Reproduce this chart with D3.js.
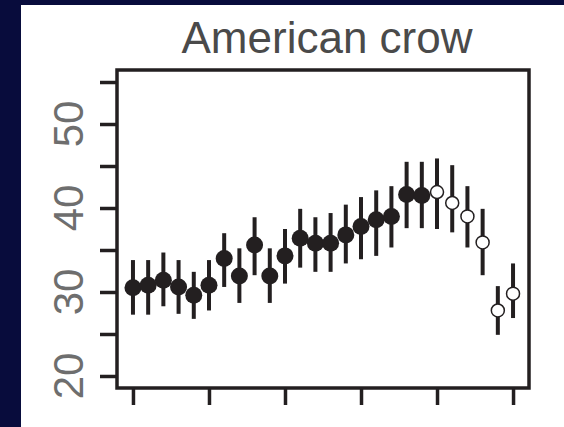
<!DOCTYPE html>
<html>
<head>
<meta charset="utf-8">
<script src="https://cdn.jsdelivr.net/npm/d3@7"></script>
<style>
  body { margin: 0; background: #080c3c; }
  svg { display: block; }
</style>
</head>
<body>
<div id="chart"></div>
<script>
// survey periods (no labels shown on the x axis)
const periods = d3.range(26);
// estimated mean count and interval bounds
const means = [30.5, 30.8, 31.4, 30.6, 29.6, 30.8, 34.0, 31.9, 35.6, 31.9, 34.3, 36.4, 35.8,
               35.8, 36.8, 37.8, 38.6, 39.0, 41.6, 41.5, 41.9, 40.6, 39.0, 35.9, 27.8, 29.8];
const lower = [27.3, 27.3, 28.3, 27.4, 26.8, 27.8, 30.6, 28.7, 32.0, 28.7, 31.0, 32.9, 32.4,
               32.4, 33.4, 33.9, 34.3, 35.3, 37.6, 37.6, 37.5, 37.1, 35.3, 32.0, 24.9, 26.9];
const upper = [33.8, 33.8, 34.7, 33.8, 32.4, 33.8, 37.0, 35.2, 38.9, 35.2, 37.5, 39.9, 38.9,
               39.4, 40.4, 41.3, 42.1, 42.6, 45.5, 45.5, 45.9, 45.1, 42.6, 39.9, 30.7, 33.4];
// first 20 points drawn filled, the rest open
const filled = periods.map(i => i < 20);
const yTicks = [20, 25, 30, 35, 40, 45, 50, 55];
const yLabels = [20, 30, 40, 50];
const xTicks = [0, 5, 10, 15, 20, 25];

const width = 564, height = 427;
const ink = "#231f20";
const font = "'Liberation Sans', Arial, sans-serif";

const svg = d3.select("#chart").append("svg")
    .attr("width", width)
    .attr("height", height);

// dark slide background with white panel
svg.append("rect").attr("width", width).attr("height", height).attr("fill", "#080c3c");
svg.append("rect").attr("x", 21).attr("y", 5)
    .attr("width", width - 21).attr("height", height - 5).attr("fill", "#fff");

const plot = {left: 117, right: 529, top: 70, bottom: 388};

const x = d3.scaleLinear().domain([-1.05, 26.05]).range([plot.left, plot.right]);
const y = d3.scaleLinear().domain([18.57, 56.43]).range([plot.bottom, plot.top]);

const rows = periods.map((p, i) => ({p, m: means[i], lo: lower[i], hi: upper[i], f: filled[i]}));

// error bars
svg.append("g").selectAll("line")
    .data(rows)
    .join("line")
    .attr("x1", d => x(d.p)).attr("x2", d => x(d.p))
    .attr("y1", d => y(d.lo)).attr("y2", d => y(d.hi))
    .attr("stroke", ink)
    .attr("stroke-width", 4);

// points
svg.append("g").selectAll("circle")
    .data(rows)
    .join("circle")
    .attr("cx", d => x(d.p))
    .attr("cy", d => y(d.m))
    .attr("r", d => d.f ? 8.5 : 6.5)
    .attr("fill", d => d.f ? ink : "#fff")
    .attr("stroke", ink)
    .attr("stroke-width", d => d.f ? 0 : 1.5);

// axes
const yAxis = d3.axisLeft(y).tickValues(yTicks).tickSize(17).tickFormat("");
const gy = svg.append("g").attr("transform", `translate(${plot.left},0)`).call(yAxis);
const xAxis = d3.axisBottom(x).tickValues(xTicks).tickSize(17).tickFormat("");
const gx = svg.append("g").attr("transform", `translate(0,${plot.bottom})`).call(xAxis);
[gy, gx].forEach(g => {
    g.select(".domain").remove();
    g.selectAll(".tick line").attr("stroke", ink).attr("stroke-width", 3.5);
});

// y tick labels, rotated like base R
svg.append("g").selectAll("text")
    .data(yLabels)
    .join("text")
    .attr("transform", d => `translate(83,${y(d)}) rotate(-90)`)
    .attr("text-anchor", "middle")
    .attr("font-family", font)
    .attr("font-size", 42)
    .attr("fill", "#6e6e6e")
    .text(d => d);

// frame
svg.append("rect")
    .attr("x", plot.left).attr("y", plot.top)
    .attr("width", plot.right - plot.left).attr("height", plot.bottom - plot.top)
    .attr("fill", "none")
    .attr("stroke", ink)
    .attr("stroke-width", 3.5);

// title
svg.append("text")
    .attr("x", 327).attr("y", 53)
    .attr("text-anchor", "middle")
    .attr("font-family", font)
    .attr("font-size", 44)
    .attr("fill", "#4a4a4a")
    .text("American crow");
</script>
</body>
</html>
